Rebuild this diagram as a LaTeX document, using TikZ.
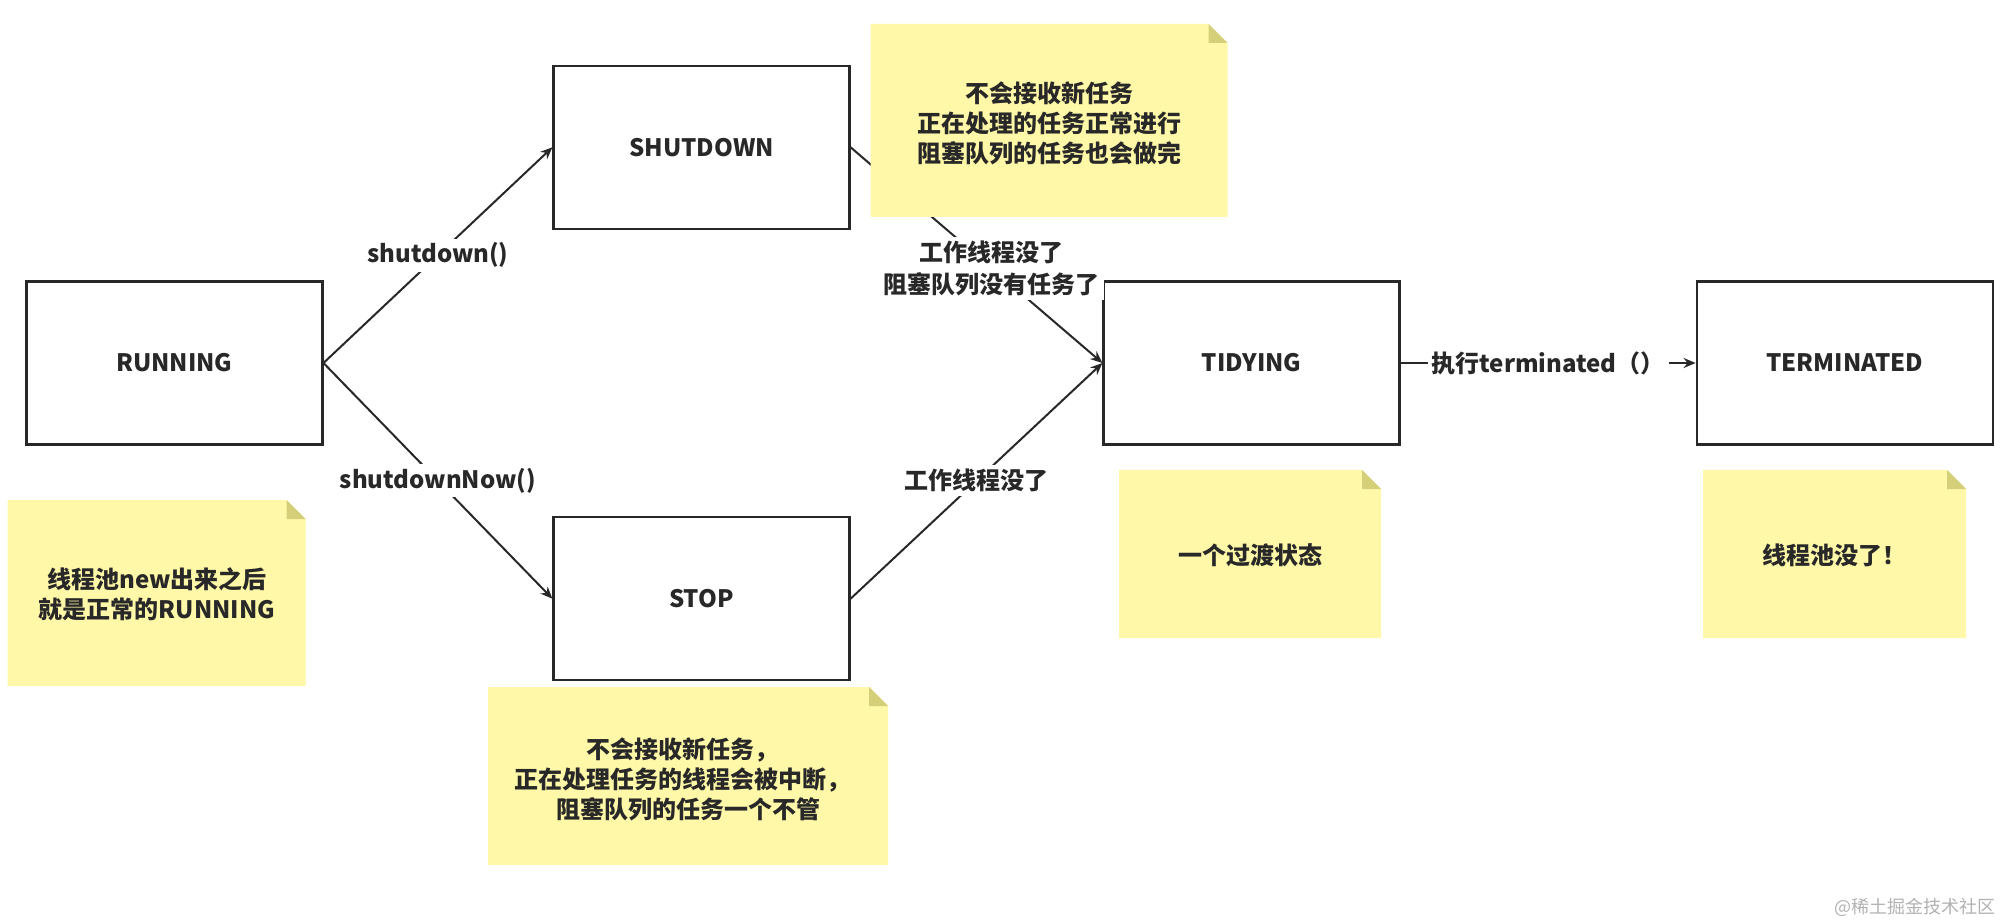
\documentclass[tikz,border=0pt]{standalone}
\usepackage{fontspec}
\setmainfont{Noto Sans CJK SC}
\usetikzlibrary{arrows.meta}
\definecolor{notefill}{RGB}{255,248,168}
\definecolor{notefold}{RGB}{214,207,122}
\definecolor{txt}{RGB}{40,40,40}
\tikzset{
  state/.style={draw=txt, line width=1.1pt, minimum width=148pt, minimum height=81.5pt, inner sep=0pt,
    font=\bfseries\fontsize{12}{15}\selectfont, text=txt},
  conn/.style={draw=txt, line width=1pt, -{Stealth[length=6pt,width=5pt]}},
  elabel/.style={fill=white, font=\bfseries\fontsize{12}{16}\selectfont, text=txt, align=center, inner sep=2pt},
  notetext/.style={font=\bfseries\fontsize{12}{15}\selectfont, text=txt, align=center},
}
\newcommand\stickynote[4]{%
  \fill[notefill] (#1,#2) -- ++(#3-19,0) -- ++(19,19) -- ++(0,#4-19) -- ++(-#3,0) -- cycle;
  \fill[notefold] (#1+#3-19,#2) -- ++(0,19) -- ++(19,0) -- cycle;
}
\begin{document}
\begin{tikzpicture}[x=0.5pt,y=-0.5pt]
\useasboundingbox (0,0) rectangle (2000,924);
% states
\node[state] (run)  at (174.4,363) {RUNNING};
\node[state] (shut) at (701.5,147.3) {SHUTDOWN};
\node[state] (stop) at (701.5,598.7) {STOP};
\node[state] (tidy) at (1251.5,363) {TIDYING};
\node[state] (term) at (1844.7,363) {TERMINATED};
% connectors
\draw[conn] (run.east) -- (shut.west) node[elabel, pos=0.5] (l1) {shutdown()};
\draw[conn] (run.east) -- (stop.west) node[elabel, pos=0.5] (l2) {shutdownNow()};
\draw[conn] (shut.east) -- (tidy.west) node[elabel, pos=0.56] (l3) {工作线程没了\\阻塞队列没有任务了};
\draw[conn] (stop.east) -- (tidy.west) node[elabel, pos=0.5] (l4) {工作线程没了};
\draw[conn] (tidy.east) -- (term.west) node[elabel, pos=0.5] (l5) {执行terminated（）};
% notes
\stickynote{870.5}{24}{357}{193}
\node[notetext] (nshut) at (1049,123) {不会接收新任务\\正在处理的任务正常进行\\阻塞队列的任务也会做完};
\stickynote{7.7}{500}{298}{186}
\node[notetext] (nrun) at (157,594.5) {线程池new出来之后\\就是正常的RUNNING};
\stickynote{488}{687}{400}{178}
\node[notetext] (nstop) at (682,779) {不会接收新任务，\\正在处理任务的线程会被中断，\\\hspace*{6pt}阻塞队列的任务一个不管};
\stickynote{1119}{470}{262}{168}
\node[notetext] (ntidy) at (1250.6,555) {一个过渡状态};
\stickynote{1703}{470}{263}{168}
\node[notetext] (nterm) at (1834,555) {线程池没了！};
% watermark
\node[text=black!30, font=\fontsize{9}{10}\selectfont] (wm) at (1915,907) {@稀土掘金技术社区};
\end{tikzpicture}
\end{document}
